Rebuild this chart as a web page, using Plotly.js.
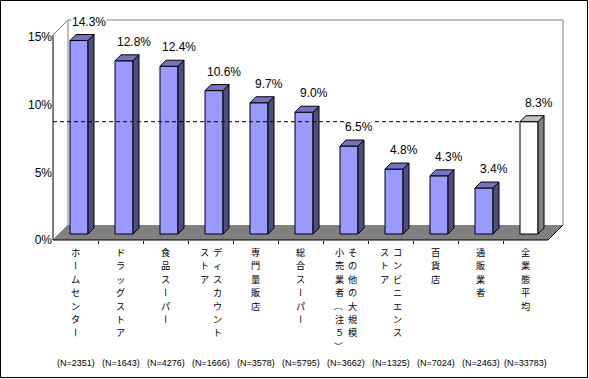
<!DOCTYPE html>
<html>
<head>
<meta charset="utf-8">
<script src="https://cdn.plot.ly/plotly-3.0.1.min.js"></script>
<style>
  html, body { margin: 0; padding: 0; background: #ffffff; }
  #chart { width: 589px; height: 379px; }
</style>
</head>
<body>
<div id="chart"></div>
<script>
// ---- data ----
const categories = [
  'ホームセンター',
  'ドラッグストア',
  '食品スーパー',
  'ディスカウント\nストア',
  '専門量販店',
  '総合スーパー',
  'その他の大規模\n小売業者（注５）',
  'コンビニエンス\nストア',
  '百貨店',
  '通販業者',
  '全業態平均'
];
const values = [14.3, 12.8, 12.4, 10.6, 9.7, 9.0, 6.5, 4.8, 4.3, 3.4, 8.3];
const sampleSizes = [2351, 1643, 4276, 1666, 3578, 5795, 3662, 1325, 7024, 2463, 33783];
const yTicks = [0, 5, 10, 15];
const yTickLabels = ['0%', '5%', '10%', '15%'];
const axisMax = 15.15;

// ---- layout geometry (pixels) ----
const W = 589, H = 379;
const M = {l: 53, r: 23, t: 12, b: 139};
const plotW = W - M.l - M.r;
const plotH = H - M.t - M.b;
const pxPerCat = 45, pxPerPct = 13.53;
const xTop = plotW / pxPerCat;
const yTop = plotH / pxPerPct;
const ux = p => p / pxPerCat;           // px -> category units
const uy = p => p / pxPerPct;           // px -> percent units
const paperX = u => u / xTop;
const paperY = v => v / yTop;
const paperYpx = py => (H - M.b - py) / plotH;
const paperXpx = px => (px - M.l) / plotW;

const n = categories.length;
const barOffset = 17, barWidth = 18, barDepth = 6, barZ = 6, floorDepth = 15;
const avgIdx = n - 1;

const FRONT = '#9999FF', SIDE = '#4D4D80', TOP = '#7373BF';
const FRONT_A = '#FFFFFF', SIDE_A = '#808080', TOP_A = '#C0C0C0';
const JP = 'Noto Sans CJK JP', LAT = 'Liberation Sans, Arial, sans-serif';

const traces = [];

// front faces through a bar trace
traces.push({
  type: 'bar',
  x: values.map((v, i) => i + ux(barOffset + barWidth / 2)),
  y: values,
  base: uy(barZ),
  width: ux(barWidth),
  marker: {
    color: values.map((v, i) => i === avgIdx ? FRONT_A : FRONT),
    line: {color: '#000000', width: 1}
  },
  hoverinfo: 'skip',
  showlegend: false
});

// side and top faces
values.forEach((v, i) => {
  const xl = i + ux(barOffset);
  const xr = xl + ux(barWidth);
  const dX = ux(barDepth), dY = uy(barDepth);
  const yb = uy(barZ), yt = v + uy(barZ);
  const isAvg = i === avgIdx;
  traces.push({
    type: 'scatter', mode: 'lines', fill: 'toself',
    x: [xr, xr + dX, xr + dX, xr, xr],
    y: [yb, yb + dY, yt + dY, yt, yb],
    fillcolor: isAvg ? SIDE_A : SIDE,
    line: {color: '#000000', width: 1},
    hoverinfo: 'skip', showlegend: false
  });
  traces.push({
    type: 'scatter', mode: 'lines', fill: 'toself',
    x: [xl, xl + dX, xr + dX, xr, xl],
    y: [yt, yt + dY, yt + dY, yt, yt],
    fillcolor: isAvg ? TOP_A : TOP,
    line: {color: '#000000', width: 1},
    hoverinfo: 'skip', showlegend: false
  });
});

// dashed average line
const avg = values[avgIdx];
traces.push({
  type: 'scatter', mode: 'lines',
  x: [0, avgIdx + ux(barOffset)],
  y: [avg + uy(barZ), avg + uy(barZ)],
  line: {color: '#000000', width: 1, dash: '4px,3px'},
  hoverinfo: 'skip', showlegend: false
});

// ---- furniture shapes (paper coordinates from data units) ----
const fdX = ux(floorDepth), fdY = uy(floorDepth);
const shapes = [];
shapes.push({
  type: 'path', xref: 'paper', yref: 'paper', layer: 'below',
  path: `M ${paperX(0)} ${paperY(0)} L ${paperX(n)} ${paperY(0)} L ${paperX(n + fdX)} ${paperY(fdY)} L ${paperX(fdX)} ${paperY(fdY)} Z`,
  fillcolor: '#808080', line: {width: 0}
});
shapes.push({
  type: 'path', xref: 'paper', yref: 'paper', layer: 'below',
  path: `M ${paperX(0)} ${paperY(axisMax)} L ${paperX(fdX)} ${paperY(axisMax + fdY)} L ${paperX(n + fdX)} ${paperY(axisMax + fdY)} L ${paperX(n + fdX)} ${paperY(fdY)}` +
        ` M ${paperX(fdX)} ${paperY(axisMax + fdY)} L ${paperX(fdX)} ${paperY(fdY)}`,
  line: {color: '#808080', width: 1}
});
shapes.push({
  type: 'line', xref: 'paper', yref: 'paper', layer: 'below',
  x0: paperX(n), y0: paperY(0), x1: paperX(n + fdX), y1: paperY(fdY),
  line: {color: '#000000', width: 1}
});
shapes.push({
  type: 'line', xref: 'paper', yref: 'paper', layer: 'below',
  x0: paperX(0), y0: paperY(0), x1: paperX(fdX), y1: paperY(fdY),
  line: {color: '#808080', width: 1}
});
shapes.push({
  type: 'line', xref: 'paper', yref: 'paper', layer: 'above',
  x0: paperX(0), y0: paperY(0), x1: paperX(0), y1: paperY(axisMax),
  line: {color: '#000000', width: 1}
});
shapes.push({
  type: 'line', xref: 'paper', yref: 'paper', layer: 'above',
  x0: paperX(0), y0: paperY(0), x1: paperX(n), y1: paperY(0),
  line: {color: '#000000', width: 1}
});
shapes.push({
  type: 'rect', xref: 'paper', yref: 'paper', layer: 'above',
  x0: paperXpx(0.5), x1: paperXpx(587.5), y0: paperYpx(377.5), y1: paperYpx(0.5),
  line: {color: '#000000', width: 1}, fillcolor: 'rgba(0,0,0,0)'
});

// ---- annotations ----
const annotations = [];
values.forEach((v, i) => {
  annotations.push({
    xref: 'x', yref: 'y',
    x: i + ux(barOffset + barWidth / 2 + 10),
    y: v + uy(25),
    text: v.toFixed(1) + '%',
    showarrow: false, xanchor: 'center', yanchor: 'middle',
    bgcolor: '#FFFFFF', borderpad: 0,
    font: {family: LAT, size: 12, color: '#000000'}
  });
});
// vertical category labels: upright glyphs stacked, columns right to left;
// long-vowel marks and brackets turn 90° as in vertical Japanese writing
const rotated = 'ー（）';
const jpSize = 9.2, jpPitch = 13.4;
categories.forEach((label, i) => {
  const cols = label.split('\n');
  const nc = cols.length;
  cols.forEach((col, c) => {
    const offPx = (nc - 1) * 6.5 - c * 13;
    Array.from(col).forEach((ch, k) => {
      annotations.push({
        xref: 'x', yref: 'paper',
        x: i + 0.5 + ux(offPx),
        y: paperYpx(252 + k * jpPitch),
        text: ch,
        textangle: rotated.includes(ch) ? 90 : 0,
        showarrow: false, xanchor: 'center', yanchor: 'middle',
        borderpad: 0,
        font: {family: JP, size: jpSize, color: '#000000'}
      });
    });
  });
});
sampleSizes.forEach((s, i) => {
  annotations.push({
    xref: 'x', yref: 'paper',
    x: i + 0.5, y: paperYpx(363),
    text: '(N=' + s + ')',
    showarrow: false, xanchor: 'center', yanchor: 'middle',
    borderpad: 0,
    font: {family: LAT, size: 9, color: '#000000'}
  });
});

const layout = {
  width: W, height: H,
  margin: M,
  paper_bgcolor: '#FFFFFF',
  plot_bgcolor: 'rgba(0,0,0,0)',
  showlegend: false,
  bargap: 0,
  xaxis: {
    type: 'linear', range: [0, xTop], fixedrange: true,
    showgrid: false, zeroline: false, showline: false,
    ticks: 'outside', ticklen: 3, tickcolor: '#000000', tickwidth: 1,
    tickvals: categories.slice(1).map((c, i) => i + 1),
    showticklabels: false
  },
  yaxis: {
    range: [0, yTop], fixedrange: true,
    showgrid: false, zeroline: false, showline: false,
    ticks: '', tickmode: 'array', tickvals: yTicks, ticktext: yTickLabels,
    tickfont: {family: LAT, size: 12, color: '#000000'}
  },
  shapes: shapes,
  annotations: annotations
};

Plotly.newPlot('chart', traces, layout, {displayModeBar: false, staticPlot: true});
</script>
</body>
</html>
